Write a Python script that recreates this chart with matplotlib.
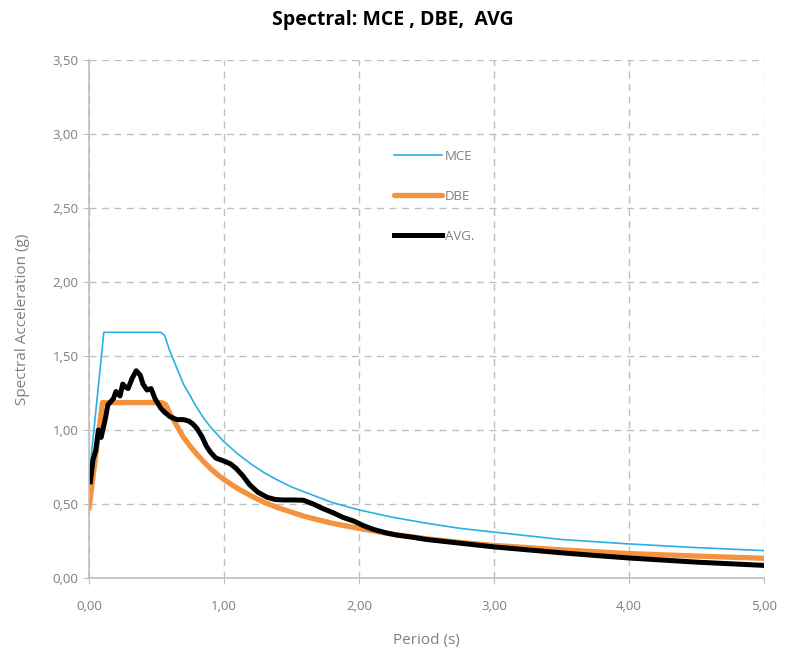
import numpy as np
import matplotlib
matplotlib.use('Agg')
import matplotlib.pyplot as plt
from matplotlib.ticker import FuncFormatter, MultipleLocator

# values
mce_period = [0.0, 0.11, 0.53, 0.56, 0.6, 0.65, 0.7, 0.75, 0.8, 0.85, 0.9, 0.95, 1.0,
              1.1, 1.2, 1.3, 1.4, 1.5, 1.6, 1.8, 2.0, 2.25, 2.5, 2.75, 3.0, 3.5, 4.0,
              4.5, 5.0]
mce_sa = [0.67, 1.66, 1.66, 1.64, 1.53, 1.42, 1.31, 1.23, 1.15, 1.08, 1.02, 0.97, 0.92,
          0.84, 0.77, 0.71, 0.66, 0.615, 0.58, 0.51, 0.46, 0.41, 0.37, 0.335, 0.31,
          0.26, 0.23, 0.205, 0.185]

dbe_period = [0.0, 0.1, 0.54, 0.57, 0.6, 0.65, 0.7, 0.75, 0.8, 0.85, 0.9, 0.95, 1.0,
              1.1, 1.2, 1.3, 1.4, 1.5, 1.6, 1.8, 2.0, 2.25, 2.5, 2.75, 3.0, 3.5, 4.0,
              4.5, 5.0]
dbe_sa = [0.47, 1.185, 1.185, 1.17, 1.11, 1.03, 0.95, 0.89, 0.835, 0.785, 0.74, 0.70,
          0.665, 0.605, 0.555, 0.51, 0.475, 0.445, 0.415, 0.37, 0.335, 0.295, 0.265,
          0.24, 0.22, 0.19, 0.165, 0.148, 0.133]

avg_period = [0.01, 0.03, 0.05, 0.07, 0.09, 0.12, 0.14, 0.16, 0.18, 0.2, 0.23, 0.25,
              0.27, 0.29, 0.32, 0.35, 0.38, 0.4, 0.43, 0.46, 0.49, 0.53, 0.56, 0.6,
              0.65, 0.7, 0.74, 0.77, 0.8, 0.84, 0.87, 0.9, 0.94, 1.0, 1.05, 1.09,
              1.14, 1.19, 1.25, 1.32, 1.38, 1.44, 1.52, 1.59, 1.66, 1.73, 1.81, 1.88,
              1.96, 2.03, 2.1, 2.2, 2.28, 2.4, 2.5, 2.75, 3.0, 3.25, 3.5, 3.75, 4.0,
              4.5, 5.0]
avg_sa = [0.65, 0.80, 0.86, 1.00, 0.95, 1.07, 1.17, 1.19, 1.21, 1.26, 1.23, 1.31,
          1.29, 1.28, 1.35, 1.40, 1.37, 1.31, 1.27, 1.28, 1.21, 1.15, 1.12, 1.09,
          1.07, 1.07, 1.06, 1.04, 1.01, 0.95, 0.89, 0.85, 0.81, 0.79, 0.77, 0.74,
          0.69, 0.63, 0.58, 0.545, 0.53, 0.527, 0.527, 0.525, 0.50, 0.47, 0.44, 0.41,
          0.385, 0.355, 0.33, 0.305, 0.29, 0.275, 0.26, 0.235, 0.21, 0.19, 0.17,
          0.152, 0.135, 0.107, 0.085]

grey = '#7f7f7f'
plt.rcParams['font.family'] = ['Open Sans', 'DejaVu Sans']

fig = plt.figure(figsize=(7.86, 6.55), dpi=100)
ax = fig.add_axes([0.1132, 0.1176, 0.8588, 0.7908])

ax.plot(mce_period, mce_sa, color='#29b0e6', lw=1.2, label='MCE')
ax.plot(dbe_period, dbe_sa, color='#f5923e', lw=3.8, label='DBE',
        solid_capstyle='round', solid_joinstyle='round')
ax.plot(avg_period, avg_sa, color='black', lw=3.6, label='AVG.',
        solid_joinstyle='round')

ax.set_xlim(0, 5)
ax.set_ylim(0, 3.5)
ax.xaxis.set_major_locator(MultipleLocator(1))
ax.yaxis.set_major_locator(MultipleLocator(0.5))
fmt = FuncFormatter(lambda v, p: f"{v:.2f}".replace('.', ','))
ax.xaxis.set_major_formatter(fmt)
ax.yaxis.set_major_formatter(fmt)

ax.grid(True, color='#bfbfbf', linestyle=(0, (5, 4)), lw=1)
ax.set_axisbelow(True)
for s in ['top', 'right']:
    ax.spines[s].set_visible(False)
for s in ['left', 'bottom']:
    ax.spines[s].set_color('#bfbfbf')
    ax.spines[s].set_linewidth(1.2)
ax.tick_params(colors='#bfbfbf', labelcolor=grey, labelsize=9.5, length=4)
ax.tick_params(axis='x', pad=12)

ax.set_xlabel('Period (s)', color=grey, fontsize=11, labelpad=14)
ax.set_ylabel('Spectral Acceleration (g)', color=grey, fontsize=11, labelpad=16)
fig.suptitle('Spectral: MCE , DBE,  AVG', fontsize=14, fontweight='bold', y=0.985)

leg = ax.legend(loc='upper left', bbox_to_anchor=(0.435, 0.85), frameon=False,
                handlelength=3.6, labelspacing=2.05, handletextpad=0.2, fontsize=9.5)
for t in leg.get_texts():
    t.set_color(grey)

fig.savefig('out.png', dpi=100)
